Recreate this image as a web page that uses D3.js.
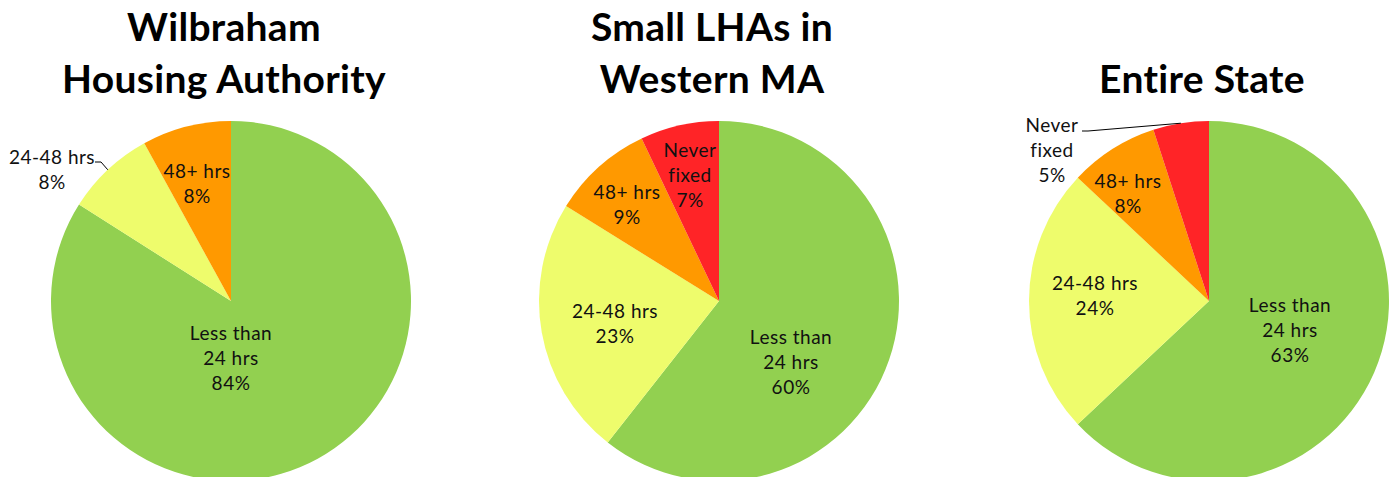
<!DOCTYPE html>
<html><head><meta charset="utf-8">
<script src="https://cdn.jsdelivr.net/npm/d3@7"></script>
<style>body{margin:0;background:#fff}svg{display:block}</style>
</head><body>
<svg id="c" width="1392" height="477"></svg>
<script>
const categories = ["Less than 24 hrs", "24-48 hrs", "48+ hrs", "Never fixed"];
const labelLines = [["Less than", "24 hrs"], ["24-48 hrs"], ["48+ hrs"], ["Never", "fixed"]];
const titles = [["Wilbraham", "Housing Authority"], ["Small LHAs in", "Western MA"], ["Entire State"]];
const wilbraham = [84, 8, 8, 0];
const smallLHAs = [60, 23, 9, 7];
const entireState = [63, 24, 8, 5];
const colors = ["#92D050", "#EEFC6C", "#FF9900", "#FF2427"];

// layout (label offsets relative to pie centre, leader lines for outside labels)
const layout = [
  {cx: 231, labels: [[0, 57], [-179, -131], [-34, -117], null], leader: [1, -136, -139]},
  {cx: 719, labels: [[72, 61], [-104, 23], [-92, -96], [-29, -126]], leader: null},
  {cx: 1209, labels: [[81, 29], [-114, -5], [-81, -107], [-157, -151]], leader: [3, -127, -170]}
];
const series = [wilbraham, smallLHAs, entireState];
const cy = 301, R = 180;
const svg = d3.select("#c");
const font = "Lato, 'Open Sans', sans-serif";
const pie = d3.pie().sort(null).value(d => d);
const arc = d3.arc().innerRadius(0).outerRadius(R);
const lineH = 25;

series.forEach((vals, i) => {
  const L = layout[i];
  const g = svg.append("g").attr("transform", `translate(${L.cx},${cy})`);
  const arcs = pie(vals);
  g.selectAll("path").data(arcs.filter(a => a.value > 0)).join("path")
    .attr("d", arc).attr("fill", d => colors[d.index]);

  // title
  const t = svg.append("text").attr("x", L.cx - 7).attr("text-anchor", "middle")
    .attr("font-family", font).attr("font-weight", "bold").attr("font-size", 39)
    .attr("letter-spacing", 0.3).attr("fill", "#000");
  const tl = titles[i];
  tl.forEach((s, k) => {
    t.append("tspan").attr("x", L.cx - 7).attr("y", (tl.length === 2 ? 41 : 93) + k * 52).text(s);
  });

  // leader line
  if (L.leader) {
    const a = arcs[L.leader[0]];
    const mid = (a.startAngle + a.endAngle) / 2;
    const px = R * Math.sin(mid), py = -R * Math.cos(mid);
    const sx = L.leader[1], sy = L.leader[2];
    g.append("path")
      .attr("d", `M${sx},${sy} L${sx + 6},${sy} L${px},${py}`)
      .attr("fill", "none").attr("stroke", "#000").attr("stroke-width", 1);
  }

  // labels
  arcs.forEach((a, j) => {
    const off = L.labels[j];
    if (!off || a.value <= 0) return;
    const lines = labelLines[j].concat([a.value + "%"]);
    const txt = g.append("text").attr("text-anchor", "middle")
      .attr("font-family", font).attr("font-size", 19).attr("letter-spacing", 0.5).attr("fill", "#111");
    const y0 = off[1] - (lines.length - 1) * lineH / 2;
    lines.forEach((s, k) => {
      txt.append("tspan").attr("x", off[0]).attr("y", y0 + k * lineH).attr("dy", "0.35em").text(s);
    });
  });
});
</script>
</body></html>
